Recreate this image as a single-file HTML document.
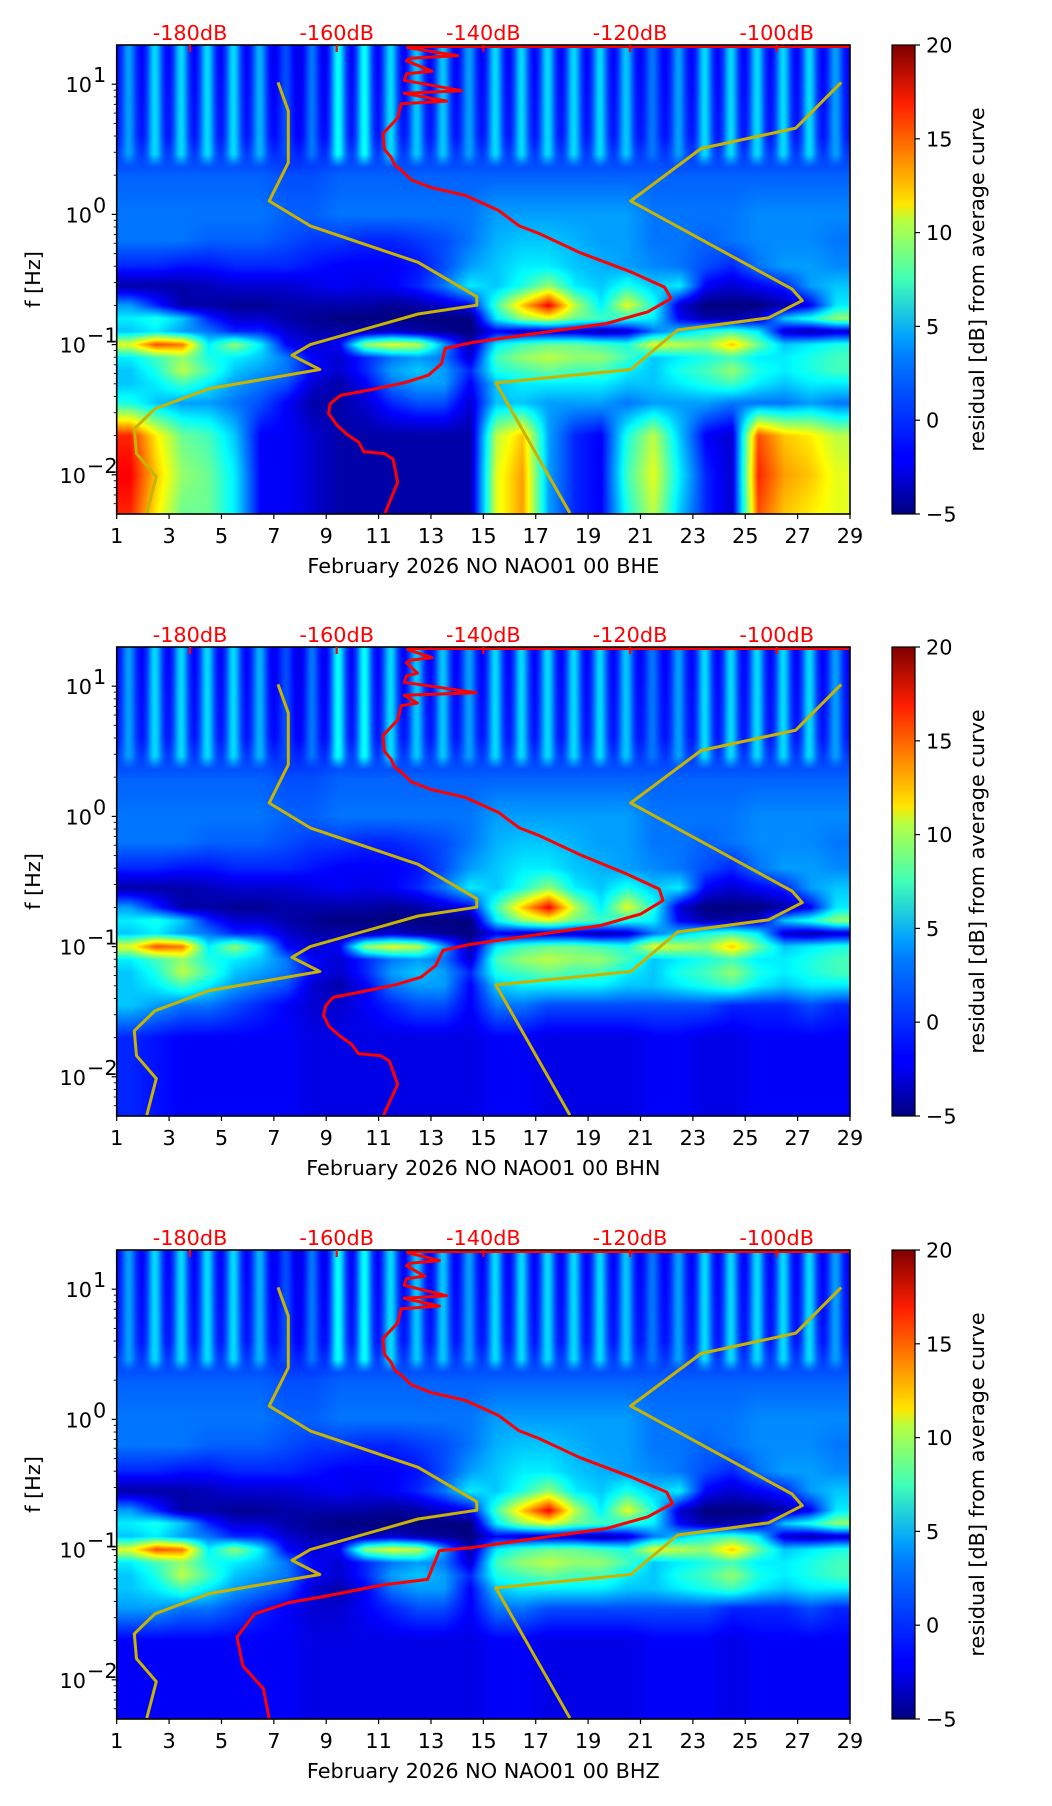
<!DOCTYPE html>
<html><head><meta charset="utf-8">
<style>
html,body{margin:0;padding:0;background:#fff;}
#wrap{position:relative;width:1052px;height:1806px;overflow:hidden;}
canvas{position:absolute;}
svg{position:absolute;left:0;top:0;}
text{font-family:"DejaVu Sans","Liberation Sans",sans-serif;font-size:20.8px;fill:#000;}
</style></head>
<body>
<div id="wrap">
<canvas id="c0" width="733" height="469" style="left:117px;top:45px"></canvas>
<canvas id="c1" width="733" height="469" style="left:117px;top:647px"></canvas>
<canvas id="c2" width="733" height="469" style="left:117px;top:1250px"></canvas>
<svg id="svg" width="1052" height="1806">
<defs>
<linearGradient id="jet" x1="0" y1="1" x2="0" y2="0">
<stop offset="0" stop-color="#00007f"/><stop offset="0.11" stop-color="#0000ff"/>
<stop offset="0.125" stop-color="#0000ff"/><stop offset="0.34" stop-color="#0080ff"/>
<stop offset="0.375" stop-color="#00a0ff"/><stop offset="0.5" stop-color="#40ffb7"/>
<stop offset="0.625" stop-color="#b7ff40"/><stop offset="0.66" stop-color="#ffe600"/>
<stop offset="0.875" stop-color="#ff1e00"/><stop offset="1" stop-color="#7f0000"/>
</linearGradient>
</defs>
</svg>
</div>
<script>
// ---- data ----
const days = [1,3,5,7,9,11,13,15,17,19,21,23,25,27,29];
const yTickExp = [1,0,-1,-2];
const dbTicks = [-180,-160,-140,-120,-100];
const cbTicks = [-5,0,5,10,15,20];
const channelNames = ["February 2026 NO NAO01 00 BHE","February 2026 NO NAO01 00 BHN","February 2026 NO NAO01 00 BHZ"];

// daily stripe intensity (high-frequency region)
const stripeLevel = [2,3.5,3.5,3.5,3.5,2.5,0,1,4.5,4.5,3.5,3,3,2,3.5,3.5,3.5,3.5,3.5,3,1,2,3.5,3.5,3.5,3.5,3.5,2];
// spectrogram row centers (log10 f)
const rowLog = [1.2,0.6,0.3,0.0,-0.2,-0.4,-0.55,-0.7,-0.8,-0.9,-1.0,-1.1,-1.2,-1.3,-1.45,-1.7,-2.0,-2.3];
// residual dB per day (28 columns), shared upper rows
const rowsUpper = [
[-2,-2,-2,-2,-2,-2,-2.5,-2.5,-2,-2,-2,-2,-2,-2,-2,-2,-2,-2,-2,-2,-2,-2,-2,-2,-2,-2,-2,-2],
[-1.5,-1.5,-1.5,-1.5,-1.5,-1.5,-2,-2,-1.5,-1.5,-1.5,-1.5,-1.5,-1.5,-1.5,-1.5,-1.5,-1.5,-1.5,-1.5,-1.5,-1.5,-1.5,-1.5,-1.5,-1.5,-1.5,-1.5],
[0.5,0.5,0.5,0.5,0.5,0.5,0,0,0.5,0.5,0.5,0.5,0.5,0.5,0.5,0.5,0.5,0.5,0.5,0.5,0.5,0.5,0.5,0.5,0.5,0.5,0.5,0.5],
[1,1,1,1,1,1,0.5,0.5,1,1,1,1,1,1,2,2,2,2,2,2,1,1,1,1,1.5,1.5,1.5,1.5],
[1,1,1,0.5,0.5,0.5,0,-0.5,-0.5,-1,-1,-0.5,0,1,2.5,3,3,2.5,2,2,1,1,0.5,1,1.5,1.5,1.5,1],
[-1,-1,-1.5,-1.5,-1,-1,-1,-1.5,-2,-2,-2,-1.5,0,2,3,4,4,3,2.5,2,1.5,1,0,-1,1,2,2,1.5],
[-4,-4,-4,-3.5,-3,-3,-3,-2.5,-2,-2.5,-2,-1,1,4,3,5,8,4,3,5,3,4,-2,-3,-2,-1,2,3],
[2,-1,-4,-4,-4.5,-4.5,-4,-4,-4,-4,-4.5,-4,-3,-2,6,12,17,9,4,10,5,-3,-5,-5,-5,-4,-2,4],
[4,5,3,-1,-3,-3,-4,-4.5,-5,-5,-5,-5,-5,-5,4,8,10,7,6,5,4,-2,-4,-4,-3,3,5,8],
[3,4,2,1,-1,-1,-3,-4,-4,-4,-3,-4,-4.5,-5,-2,-3,-3,-3,-4,-3,1,3,5,6,4,-3,-4,-3],
[10,15,14,4,8,4,-2,-3,-2,8,10,9,2,-4,4,6,7,7,6,5,10,9,8,12,7,3,4,5],
[4,6,8,5,4,3,1,-2,-3,-1,1,2,1,-3,6,8,9,8,8,6,3,4,5,6,4,4,5,6],
[3,5,9,6,3,2,1,-2,-3,-1,2,3,2,-1,5,6,7,6,6,4,3,5,6,8,5,4,5,6],
[3,4,6,4,2,1,0,-3,-4,-2,1,2,2,-2,3,4,4,4,4,3,3,4,5,6,4,3,4,4]
];
const rowsLowBHE = [
[5,3,2,2,1,0,-2,-4,-4,-3,-1,0,0,-3,3,3,2,2,2,1,2,2,2,1,1,1,2,1],
[16,11,7,6,3,-2,-2,-3,-4,-4,-4,-4,-4,-4,9,12,2,-1,-2,5,9,3,-2,-3,15,12,11,9],
[17,12,8,7,4,-2,-2,-3,-4,-4,-4,-4,-4,-4,10,13,2,-1,-2,6,10,4,-1,-3,16,13,12,10],
[16,11,7,7,4,-2,-2,-3,-4,-4,-4,-4,-4,-4,10,13,2,-1,-2,5,9,3,-1,-3,15,12,11,10]
];
const rowsLowBHN = [
[3,2,1,1,0,-1,-2,-3,-3,-2,-1,0,0,-2,1,1,0,0,0,0,0,0,0,-1,-1,-1,0,-1],
[-1,-1.5,-2,-2,-2,-2,-2,-2.5,-2.5,-2.5,-2.5,-2.5,-2.5,-2.5,-2,-2,-2.5,-2.5,-2.5,-2.5,-2,-2,-2.5,-2.5,-2,-2,-2,-2],
[-1,-1.5,-2,-2,-2,-2,-2,-2.5,-2.5,-2.5,-2.5,-2.5,-2.5,-2.5,-2,-2,-2.5,-2.5,-2.5,-2.5,-2,-2,-2.5,-2.5,-2,-2,-2,-2],
[-1,-1.5,-2,-2,-2,-2,-2,-2.5,-2.5,-2.5,-2.5,-2.5,-2.5,-2.5,-2,-2,-2.5,-2.5,-2.5,-2.5,-2,-2,-2.5,-2.5,-2,-2,-2,-2]
];
const rowsLowBHZ = [
[2,2,1,1,0,-1,-2,-3,-3,-2,-1,0,0,-2,1,1,0,0,0,0,0,0,0,-1,-1,-1,0,-1],
[-2,-2,-2,-2,-2,-2,-2,-2.5,-2.5,-2.5,-2.5,-2.5,-2.5,-2.5,-2,-2,-2.5,-2.5,-2.5,-2.5,-2,-2,-2,-2.5,-2,-2,-2,-2],
[-2,-2,-2,-2,-2,-2,-2,-2.5,-2.5,-2.5,-2.5,-2.5,-2.5,-2.5,-2,-2,-2.5,-2.5,-2.5,-2.5,-2,-2,-2,-2.5,-2,-2,-2,-2],
[-2,-2,-2,-2,-2,-2,-2,-2.5,-2.5,-2.5,-2.5,-2.5,-2.5,-2.5,-2,-2,-2.5,-2.5,-2.5,-2.5,-2,-2,-2,-2.5,-2,-2,-2,-2]
];

// noise model curves (log10 f, dB)
const nlnmLog = [1.014,0.794,0.397,0.103,-0.088,-0.368,-0.632,-0.697,-0.765,-1.0,-1.082,-1.191,-1.338,-1.494,-1.647,-1.838,-2.014,-2.294];
const nlnmDb = [-168.0,-166.6,-166.6,-169.2,-163.6,-148.9,-140.9,-140.9,-148.9,-163.6,-166.1,-162.3,-177.4,-184.8,-187.6,-187.3,-184.6,-185.9];
const nhnmLog = [1.014,0.662,0.506,0.103,-0.574,-0.662,-0.794,-0.888,-1.191,-1.294,-2.294];
const nhnmDb = [-91.2,-97.4,-110.3,-119.9,-97.9,-96.5,-101.1,-113.5,-119.9,-138.3,-128.2];

// average PSD curves (log10 f, dB)
const psdLogBHE = [1.301,1.28,1.22,1.20,1.18,1.10,1.08,1.03,0.95,0.93,0.87,0.85,0.74,0.62,0.50,0.44,0.38,0.34,0.265,0.206,0.147,0.03,-0.088,-0.147,-0.294,-0.441,-0.558,-0.646,-0.749,-0.838,-0.911,-0.985,-1.029,-1.146,-1.235,-1.293,-1.352,-1.39,-1.455,-1.529,-1.617,-1.69,-1.749,-1.823,-1.837,-1.881,-2.058,-2.293];
const psdDbBHE = [-150.3,-150.3,-143.5,-150,-150.5,-147,-150.5,-150.8,-143,-150.8,-145,-151.2,-151.7,-153.7,-153.5,-152.6,-152.1,-151.2,-149.8,-147.1,-142.5,-137.9,-135.1,-132.4,-126.8,-119.9,-115.3,-114.4,-117.6,-123.2,-132.4,-141.6,-145.2,-145.7,-147.5,-150.8,-155.8,-159.5,-160.9,-161.1,-160.0,-158.6,-157.0,-156.3,-153.5,-152.3,-151.7,-153.4];
const psdLogBHN = [1.301,1.28,1.22,1.20,1.18,1.10,1.08,1.03,0.95,0.93,0.87,0.85,0.74,0.62,0.50,0.44,0.38,0.34,0.265,0.206,0.147,0.03,-0.088,-0.147,-0.294,-0.441,-0.558,-0.646,-0.749,-0.838,-0.911,-0.985,-1.029,-1.146,-1.235,-1.293,-1.352,-1.39,-1.455,-1.529,-1.617,-1.69,-1.749,-1.823,-1.837,-1.881,-2.058,-2.293];
const psdDbBHN = [-150.3,-150.3,-147,-150,-150.5,-149,-150.5,-150.8,-141,-150.8,-149,-151.2,-151.7,-153.7,-153.5,-152.6,-152.1,-151.2,-149.8,-147.1,-142.5,-137.9,-135.1,-132.4,-126.8,-120.5,-116.0,-115.5,-118.5,-124,-133,-142,-145.5,-146.5,-148.5,-152,-157,-160.5,-161.5,-161.8,-161.0,-159.5,-158,-157,-154,-152.8,-151.7,-153.6];
const psdLogBHZ = [1.301,1.28,1.22,1.20,1.18,1.10,1.08,1.03,0.95,0.93,0.87,0.85,0.74,0.62,0.50,0.44,0.38,0.34,0.265,0.206,0.147,0.03,-0.088,-0.147,-0.294,-0.441,-0.558,-0.646,-0.749,-0.838,-0.911,-0.985,-1.008,-1.229,-1.273,-1.361,-1.406,-1.494,-1.671,-1.892,-2.069,-2.299];
const psdDbBHZ = [-150.3,-150.3,-146,-150,-150.5,-148,-150.5,-150.8,-145,-150.8,-146,-151.2,-151.7,-153.7,-153.5,-152.6,-152.1,-151.2,-149.8,-147.1,-142.5,-137.9,-135.1,-132.4,-126.8,-119.9,-115.0,-114.2,-117.6,-123.2,-132.4,-141.6,-146.0,-147.6,-153.9,-161.8,-166.5,-171.2,-173.6,-172.8,-170.0,-169.2];

// ---- layout ----
const L=116.7, R=850, W=R-L, H=469;
const tops=[45,647,1250];
const LOGMAX=Math.log10(20), LOGMIN=Math.log10(0.005);
const xDay=d=>L+(d-1)*W/28;
const xDb=db=>L+(db+190)*W/100;
const yLog=(top,l)=>top+(LOGMAX-l)*H/(LOGMAX-LOGMIN);
const NS="http://www.w3.org/2000/svg";
const svg=document.getElementById('svg');
function mk(tag,attrs,parent){const e=document.createElementNS(NS,tag);for(const k in attrs)e.setAttribute(k,attrs[k]);(parent||svg).appendChild(e);return e;}

function jet(v){let t=(v+5)/25;t=Math.max(0,Math.min(1,t));
 const c=x=>Math.max(0,Math.min(1,x));
 return [c(1.5-Math.abs(4*t-3))*255,c(1.5-Math.abs(4*t-2))*255,c(1.5-Math.abs(4*t-1))*255];}

function drawSpec(canvas,rows){
 const ctx=canvas.getContext('2d');const img=ctx.createImageData(733,469);const d=img.data;
 const nR=rows.length;
 for(let y=0;y<469;y++){
  const lg=LOGMAX-(y+0.5)*(LOGMAX-LOGMIN)/469;
  let r0=0,r1=0,f=0;
  if(lg>=rowLog[0]){r0=r1=0;}else if(lg<=rowLog[nR-1]){r0=r1=nR-1;}
  else{for(let i=0;i<nR-1;i++){if(lg<=rowLog[i]&&lg>=rowLog[i+1]){r0=i;r1=i+1;f=(rowLog[i]-lg)/(rowLog[i]-rowLog[i+1]);break;}}}
  const sw=Math.max(0,Math.min(1,(lg-0.36)/0.1));
  for(let x=0;x<733;x++){
   const dp=(x+0.5)*28/733;
   let u=dp-0.5;let c0=Math.floor(u),c1=c0+1,g=u-c0;
   if(c0<0){c0=0;c1=0;g=0;} if(c1>27){c1=27;} if(c0>27)c0=27;
   const a=rows[r0][c0]*(1-g)+rows[r0][c1]*g;
   const b=rows[r1][c0]*(1-g)+rows[r1][c1]*g;
   let v=a*(1-f)+b*f;
   if(sw>0){const di=Math.min(27,Math.floor(dp));const fr=dp-di;
     const k=Math.exp(-Math.pow((fr-0.45)/0.27,2));
     v=v+(stripeLevel[di]-v)*k*sw;}
   const col=jet(v);const p=(y*733+x)*4;
   d[p]=col[0];d[p+1]=col[1];d[p+2]=col[2];d[p+3]=255;}
 }
 ctx.putImageData(img,0,0);
}
drawSpec(document.getElementById('c0'),rowsUpper.concat(rowsLowBHE));
drawSpec(document.getElementById('c1'),rowsUpper.concat(rowsLowBHN));
drawSpec(document.getElementById('c2'),rowsUpper.concat(rowsLowBHZ));

const psdLogs=[psdLogBHE,psdLogBHN,psdLogBHZ];
const psdDbs=[psdDbBHE,psdDbBHN,psdDbBHZ];

function line(top,logs,dbs,color,name){
 const pts=logs.map((l,i)=>xDb(dbs[i]).toFixed(1)+','+yLog(top,l).toFixed(1)).join(' ');
 const p=mk('polyline',{points:pts,fill:'none',stroke:color,'stroke-width':3,'stroke-linejoin':'round'});
 
 
}

for(let k=0;k<3;k++){
 const top=tops[k],bot=top+H;
 line(top,nlnmLog,nlnmDb,'#c8b400','low-noise-model-curve');
 line(top,nhnmLog,nhnmDb,'#c8b400','high-noise-model-curve');
 line(top,psdLogs[k],psdDbs[k],'#ff0000','average-psd-curve');
 const tl=mk('line',{x1:xDb(psdDbs[k][0]),y1:top+1.5,x2:R,y2:top+1.5,stroke:'#ff0000','stroke-width':3});
 
 
 const fr=mk('rect',{x:L,y:top,width:W,height:H,fill:'none',stroke:'#000','stroke-width':1.6});
 
 
 days.forEach(d=>{const x=xDay(d);
  mk('line',{x1:x,y1:bot,x2:x,y2:bot+5,stroke:'#000','stroke-width':1.2});
  const t=mk('text',{x:x,y:bot+29,'text-anchor':'middle'});t.textContent=d;
  
  });
 const xt=mk('text',{x:L+W/2,y:bot+59,'text-anchor':'middle'});xt.textContent=channelNames[k];
 
 
 yTickExp.forEach(e=>{const y=yLog(top,e);
  mk('line',{x1:L-5,y1:y,x2:L,y2:y,stroke:'#000','stroke-width':1.2});
  const t=mk('text',{x:e<0?86:92,y:y+8,'text-anchor':'end'});t.textContent='10';
  
  
  const s=mk('text',{x:e<0?87:93,y:y-2,'font-size':'14.5px'});s.textContent=(e<0?'\u2212':'')+Math.abs(e);
  
  });
 for(let e=-3;e<=1;e++)for(let m=2;m<=9;m++){const l=e+Math.log10(m);
  if(l>LOGMIN&&l<LOGMAX){const y=yLog(top,l);mk('line',{x1:L-3,y1:y,x2:L,y2:y,stroke:'#000','stroke-width':0.9});}}
 const yl=mk('text',{x:0,y:0,'text-anchor':'middle',transform:`translate(40,${top+H/2}) rotate(-90)`});yl.textContent='f [Hz]';
 
 
 dbTicks.forEach(db=>{const x=xDb(db);
  mk('line',{x1:x,y1:top,x2:x,y2:top+7,stroke:'#ff0000','stroke-width':2.2});
  const t=mk('text',{x:x,y:top-5,'text-anchor':'middle',style:'fill:#ff0000'});t.textContent='-'+Math.abs(db)+'dB';
  
  });
 const cb=mk('rect',{x:892,y:top,width:23,height:H,fill:'url(#jet)',stroke:'#000','stroke-width':1.2});
 
 
 cbTicks.forEach(v=>{const y=bot-(v+5)/25*H;
  mk('line',{x1:915,y1:y,x2:920,y2:y,stroke:'#000','stroke-width':1.2});
  const t=mk('text',{x:926,y:y+7.5});t.textContent=(v<0?'\u2212':'')+Math.abs(v);
  
  });
 const cl=mk('text',{x:0,y:0,'text-anchor':'middle',transform:`translate(984,${top+H/2}) rotate(-90)`});cl.textContent='residual [dB] from average curve';
 
 
}
</script>
</body></html>
